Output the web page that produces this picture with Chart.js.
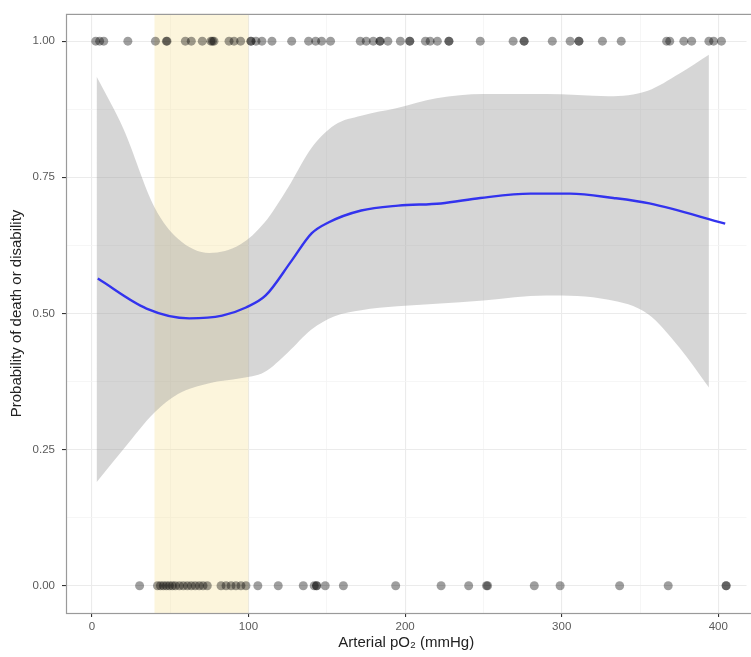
<!DOCTYPE html>
<html>
<head>
<meta charset="utf-8">
<script src="https://cdn.jsdelivr.net/npm/chart.js@4"></script>
<style>
  html, body { margin: 0; padding: 0; background: #fff; }
  #wrap { width: 751px; height: 657px; }
</style>
</head>
<body>
<div id="wrap"><canvas id="po2"></canvas></div>
<script>
// observed outcomes (1 = death or disability, 0 = not)
const topRowX = [2.5, 5, 7.6, 23, 40.6, 47.6, 48, 59.7, 63.5, 70.5, 76, 77, 78, 87.6, 90.8, 95, 101.6, 101.6, 104.8, 108.6,
  115, 127.6, 138.4, 142.9, 146.7, 152.4, 171.4, 175.2, 179.7, 184, 184, 189, 197,
  203, 203, 213, 216, 220.6, 228, 228, 248, 269, 276, 276, 294, 305.4, 311, 311, 326, 338,
  367, 369, 378, 383, 394, 397, 402];
const bottomRowX = [30.5, 41.9, 43.8, 45.7, 47.6, 49.5, 51.4, 53.3, 55.9, 58.4, 61, 63.5, 66, 68.6, 71, 73.7,
  82.5, 85.7, 88.9, 92, 95.2, 98.4, 106, 119, 135, 142, 143.5, 143.5, 149, 160.6, 194,
  223, 240.6, 252, 252.7, 282.5, 299, 337, 368, 405, 405];

// fitted curve
const curveX = [3.8, 34.9, 62.2, 83.2, 98.4, 111, 127.6, 140.3, 151, 172, 195.6, 222.9, 248, 280, 305.4, 333, 356, 404.4];
const curveY = [0.564, 0.509, 0.491, 0.496, 0.511, 0.533, 0.597, 0.647, 0.667, 0.689, 0.698, 0.702, 0.712, 0.720, 0.720, 0.712, 0.702, 0.665];

// confidence band
const ribbonX = [3, 20, 40, 55, 75, 95, 110, 125, 140, 155, 172, 195, 220, 250, 290, 330, 355, 375, 394];
const ribbonUpper = [0.935, 0.84, 0.695, 0.637, 0.611, 0.627, 0.666, 0.73, 0.803, 0.846, 0.863, 0.877, 0.895, 0.903, 0.903, 0.899, 0.909, 0.94, 0.975];
const ribbonLower = [0.19, 0.25, 0.318, 0.352, 0.372, 0.381, 0.392, 0.428, 0.47, 0.495, 0.506, 0.513, 0.518, 0.524, 0.533, 0.525, 0.499, 0.438, 0.364];

// shaded target range (mmHg)
const targetRange = [40, 100];

const pts = (xs, ys) => xs.map((x, i) => ({x: x, y: ys[i]}));
const rowPts = (xs, y) => xs.map(x => ({x: x, y: y}));

const gridCol = '#ebebeb';

const bandPlugin = {
  id: 'band',
  beforeDatasetsDraw(chart) {
    const {ctx, chartArea, scales} = chart;
    const x0 = scales.x.getPixelForValue(targetRange[0]);
    const x1 = scales.x.getPixelForValue(targetRange[1]);
    ctx.save();
    ctx.fillStyle = 'rgba(246,226,150,0.33)';
    ctx.fillRect(x0, chartArea.top, x1 - x0, chartArea.bottom - chartArea.top);
    ctx.restore();
  },
  afterDraw(chart) {
    const {ctx, chartArea} = chart;
    ctx.save();
    ctx.strokeStyle = '#9a9a9a';
    ctx.lineWidth = 1.2;
    ctx.strokeRect(chartArea.left + 0.5, chartArea.top + 0.5, chartArea.right - chartArea.left + 20, chartArea.bottom - chartArea.top);
    ctx.restore();
  }
};

const majorOnly = (step) => (c) => {
  const v = c.tick ? c.tick.value : 0;
  const r = Math.abs(v / step - Math.round(v / step));
  return r < 1e-6;
};

new Chart(document.getElementById('po2').getContext('2d'), {
  data: {
    datasets: [
      {
        type: 'scatter',
        data: rowPts(topRowX, 1).concat(rowPts(bottomRowX, 0)),
        backgroundColor: 'rgba(0,0,0,0.38)',
        borderWidth: 0,
        pointRadius: 4.5,
        order: 0
      },
      {
        type: 'line',
        data: pts(curveX, curveY),
        borderColor: '#3333ee',
        borderWidth: 2.4,
        pointRadius: 0,
        cubicInterpolationMode: 'monotone',
        fill: false,
        order: 1
      },
      {
        type: 'line',
        data: pts(ribbonX, ribbonUpper),
        borderWidth: 0,
        borderColor: 'rgba(0,0,0,0)',
        backgroundColor: 'rgba(153,153,153,0.4)',
        pointRadius: 0,
        cubicInterpolationMode: 'monotone',
        fill: '+1',
        order: 2
      },
      {
        type: 'line',
        data: pts(ribbonX, ribbonLower),
        borderWidth: 0,
        borderColor: 'rgba(0,0,0,0)',
        pointRadius: 0,
        cubicInterpolationMode: 'monotone',
        fill: false,
        order: 3
      }
    ]
  },
  options: {
    responsive: true,
    maintainAspectRatio: false,
    animation: false,
    layout: { padding: { top: 13, right: 0, left: 0, bottom: 0 } },
    plugins: {
      legend: { display: false },
      tooltip: { enabled: false }
    },
    scales: {
      x: {
        type: 'linear',
        min: -16.5,
        max: 418,
        afterFit(s) { s.height = 44; },
        border: { display: false },
        grid: {
          color: (c) => majorOnly(100)(c) ? gridCol : '#f4f4f4',
          lineWidth: (c) => majorOnly(100)(c) ? 1.1 : 0.8,
          tickColor: (c) => majorOnly(100)(c) ? '#333' : 'rgba(0,0,0,0)',
          tickLength: 4
        },
        ticks: {
          stepSize: 50,
          includeBounds: false,
          maxRotation: 0,
          autoSkip: false,
          padding: 3,
          color: '#5a5a5a',
          font: { family: 'Liberation Sans', size: 11.5 },
          callback: (v) => (v % 100 === 0 ? String(v) : '')
        },
        title: {
          display: true,
          text: 'Arterial pO\u2082 (mmHg)',
          color: '#222',
          font: { family: 'Liberation Sans', size: 15 },
          padding: { top: 0, bottom: 5 }
        }
      },
      y: {
        type: 'linear',
        min: -0.05,
        max: 1.05,
        afterFit(s) { s.width = 66; },
        border: { display: false },
        grid: {
          color: (c) => majorOnly(0.25)(c) ? gridCol : '#f4f4f4',
          lineWidth: (c) => majorOnly(0.25)(c) ? 1.1 : 0.8,
          tickColor: (c) => majorOnly(0.25)(c) ? '#333' : 'rgba(0,0,0,0)',
          tickLength: 4
        },
        ticks: {
          stepSize: 0.125,
          includeBounds: false,
          autoSkip: false,
          padding: 7,
          color: '#5a5a5a',
          font: { family: 'Liberation Sans', size: 11.5 },
          callback: (v) => {
            const r = Math.abs(v / 0.25 - Math.round(v / 0.25));
            return r < 1e-6 ? v.toFixed(2) : '';
          }
        },
        title: {
          display: true,
          text: 'Probability of death or disability',
          color: '#222',
          font: { family: 'Liberation Sans', size: 15 },
          padding: { top: 8, bottom: 0 }
        }
      }
    }
  },
  plugins: [bandPlugin]
});
</script>
</body>
</html>
